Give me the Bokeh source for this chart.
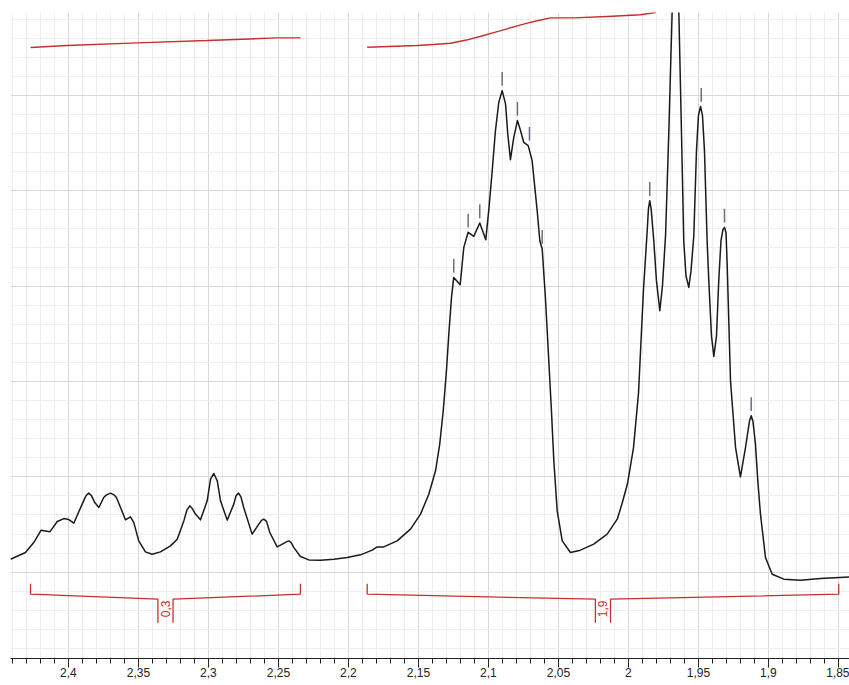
import math
from bokeh.plotting import figure
from bokeh.models import (Range1d, SingleIntervalTicker, Grid, CustomJSTickFormatter)
from bokeh.embed import file_html
from bokeh.resources import INLINE
from bokeh.core.properties import value

# ---------------- data (chemical shift in ppm, intensity in arbitrary units) ----------------
ppm = [2.4414, 2.4307, 2.4248, 2.4195, 2.4133, 2.4080, 2.4033, 2.3998, 2.3962, 2.3902,
       2.3875, 2.3855, 2.3835, 2.3812, 2.3783, 2.3748, 2.3728, 2.3700, 2.3675, 2.3657,
       2.3623, 2.3593, 2.3557, 2.3533, 2.3498, 2.3450, 2.3402, 2.3343, 2.3271, 2.3223,
       2.3176, 2.3153, 2.3133, 2.3114, 2.3093, 2.3057, 2.3009, 2.2985, 2.2962, 2.2937,
       2.2914, 2.2866, 2.2819, 2.2803, 2.2785, 2.2768, 2.2748, 2.2688, 2.2640, 2.2621,
       2.2605, 2.2585, 2.2562, 2.2509, 2.2466, 2.2443, 2.2426, 2.2410, 2.2390, 2.2343,
       2.2283, 2.2200, 2.2105, 2.2009, 2.1914, 2.1830, 2.1795, 2.1748, 2.1652, 2.1557,
       2.1485, 2.1426, 2.1378, 2.1348, 2.1323, 2.1300, 2.1283, 2.1264, 2.1248, 2.1202,
       2.1176, 2.1145, 2.1105, 2.1062, 2.1019, 2.0998, 2.0973, 2.0950, 2.0926, 2.0902,
       2.0878, 2.0862, 2.0843, 2.0819, 2.0793, 2.0771, 2.0748, 2.0716, 2.0688, 2.0652,
       2.0633, 2.0616, 2.0593, 2.0569, 2.0550, 2.0533, 2.0509, 2.0473, 2.0414, 2.0343,
       2.0248, 2.0152, 2.0080, 2.0046, 2.0007, 1.9964, 1.9928, 1.9893, 1.9866, 1.9857,
       1.9848, 1.9838, 1.9819, 1.9800, 1.9776, 1.9757, 1.9735, 1.9712, 1.9688, 1.9664,
       1.9640, 1.9621, 1.9605, 1.9589, 1.9569, 1.9553, 1.9533, 1.9514, 1.9500, 1.9485,
       1.9471, 1.9457, 1.9438, 1.9426, 1.9407, 1.9390, 1.9371, 1.9355, 1.9339, 1.9325,
       1.9314, 1.9303, 1.9295, 1.9271, 1.9235, 1.9200, 1.9164, 1.9135, 1.9123, 1.9110,
       1.9093, 1.9076, 1.9057, 1.9021, 1.8973, 1.8890, 1.8771, 1.8628, 1.8421]
intensity = [1.36, 2.06, 3.11, 4.41, 4.23, 5.31, 5.62, 5.52, 5.14, 7.14,
             8.01, 8.29, 8.01, 7.30, 6.78, 7.83, 8.11, 8.29, 8.11, 7.83,
             6.61, 5.49, 5.80, 5.20, 3.28, 2.13, 1.89, 2.13, 2.76, 3.46,
             5.38, 6.54, 6.96, 6.64, 6.09, 5.49, 7.48, 9.76, 10.35, 9.58,
             7.48, 5.46, 7.14, 8.01, 8.29, 7.90, 6.78, 3.99, 5.04, 5.44,
             5.56, 5.33, 4.16, 2.65, 3.00, 3.18, 3.28, 3.13, 2.58, 1.64,
             1.29, 1.26, 1.36, 1.53, 1.82, 2.31, 2.65, 2.65, 3.28, 4.51,
             6.09, 8.18, 10.63, 13.43, 16.93, 21.12, 24.97, 28.81, 30.91, 30.15,
             34.06, 35.64, 35.22, 36.62, 34.87, 37.91, 42.11, 46.31, 49.28, 50.50,
             49.11, 45.96, 43.26, 45.60, 47.36, 46.31, 45.08, 44.73, 43.16, 37.91,
             34.76, 33.89, 28.78, 22.17, 16.93, 11.68, 6.43, 3.28, 2.06, 2.31,
             2.94, 3.99, 5.56, 7.17, 9.27, 13.04, 18.81, 29.52, 35.81, 38.12,
             38.96, 38.12, 34.76, 30.57, 27.42, 30.04, 35.29, 45.99, 58.69, 61.01,
             58.69, 45.99, 34.76, 31.09, 29.86, 31.62, 35.29, 44.21, 47.88, 48.83,
             47.88, 44.21, 34.76, 30.57, 24.80, 22.62, 24.80, 30.57, 34.76, 35.92,
             36.16, 35.60, 32.35, 20.07, 13.07, 10.00, 13.07, 15.88, 16.40, 15.77,
             13.46, 9.58, 6.09, 1.53, -0.21, -0.73, -0.84, -0.67, -0.49]

# integral curves
integral1_ppm = [2.4271, 2.4009, 2.3509, 2.3009, 2.2509, 2.2343]
integral1_val = [55.02, 55.23, 55.51, 55.75, 56.03, 56.03]
integral2_ppm = [2.1866, 2.1509, 2.1393, 2.1271, 2.1157, 2.1035, 2.0950, 2.0866, 2.0723,
                 2.0643, 2.0557, 2.0393, 2.0152, 1.9914, 1.9807, 1.9700, 1.9485, 1.9057,
                 1.8500]
integral2_val = [55.05, 55.23, 55.33, 55.47, 55.80, 56.28, 56.64, 56.98, 57.57,
                 57.85, 58.13, 58.13, 58.27, 58.45, 58.69, 62.05, 65.19, 68.34,
                 68.87]

# picked peaks
peak_ppm = [2.1248, 2.1145, 2.1062, 2.0902, 2.0793, 2.0707, 2.0616,
            1.9848, 1.9480, 1.9314, 1.9123]
peak_height = [30.91, 35.64, 36.62, 50.50, 47.36, 44.73, 33.92,
               38.96, 48.83, 36.16, 16.40]

# integration regions
integ_start = [2.4271, 2.1866]
integ_end = [2.2343, 1.8498]
integ_label = ["0,3", "1,9"]

# ---------------- figure ----------------
p = figure(frame_width=839, frame_height=646,
           x_range=Range1d(2.4414, 1.8421), y_range=Range1d(-9.05, 58.69),
           output_backend="svg", toolbar_location=None, y_axis_location=None,
           min_border_left=10, min_border_right=0, min_border_top=12, min_border_bottom=0)
p.outline_line_color = None
p.background_fill_color = "white"
p.border_fill_color = "white"

xt = SingleIntervalTicker(interval=0.05, num_minor_ticks=5)
p.xaxis.ticker = xt
p.xgrid.ticker = xt
p.xgrid.grid_line_color = "#d9d9d9"
p.xgrid.minor_grid_line_color = "#eeeeee"

yg = Grid(dimension=1, ticker=SingleIntervalTicker(interval=10, num_minor_ticks=5),
          grid_line_color="#d9d9d9", minor_grid_line_color="#eeeeee")
p.add_layout(yg)

ax = p.xaxis[0]
ax.formatter = CustomJSTickFormatter(
    code="return (Math.round(tick*100)/100).toString().replace('.', ',');")
ax.axis_line_color = "#222222"
ax.major_tick_line_color = "#222222"
ax.minor_tick_line_color = "#222222"
ax.major_tick_in = 0
ax.major_tick_out = 9
ax.minor_tick_in = 0
ax.minor_tick_out = 5
ax.major_label_standoff = 0
ax.major_label_text_font = "Liberation Sans"
ax.major_label_text_font_size = "12px"
ax.major_label_text_color = "#222222"

RED = "#c62f2f"

# spectrum
p.line(ppm, intensity, line_color="#1a1a1a", line_width=1.5, line_join="round")

# integral curves
p.line(integral1_ppm, integral1_val, line_color=RED, line_width=1.4)
p.line(integral2_ppm, integral2_val, line_color=RED, line_width=1.4, line_join="round")

# peak markers
p.segment(x0=peak_ppm, x1=peak_ppm,
          y0=[h + 0.5 for h in peak_height], y1=[h + 1.95 for h in peak_height],
          line_color="#6e6e80", line_width=1.5)

# integration brackets
hg = 0.0054
xs, ys, lx, ly = [], [], [], []
for s, e in zip(integ_start, integ_end):
    m = (s + e) / 2
    xs.append([s, s, m + hg, m + hg])
    ys.append([-1.20, -2.31, -2.83, -5.29])
    xs.append([m - hg, m - hg, e, e])
    ys.append([-5.29, -2.83, -2.31, -1.20])
    lx.append(m)
    ly.append(-3.85)
p.multi_line(xs, ys, line_color=RED, line_width=1.3)
p.text(x=lx, y=ly, text=integ_label, angle=math.pi / 2,
       text_align="center", text_baseline="middle",
       text_font=value("Liberation Sans"), text_font_size="12px", text_color=RED)

open("out.html", "w").write(file_html(p, INLINE))
